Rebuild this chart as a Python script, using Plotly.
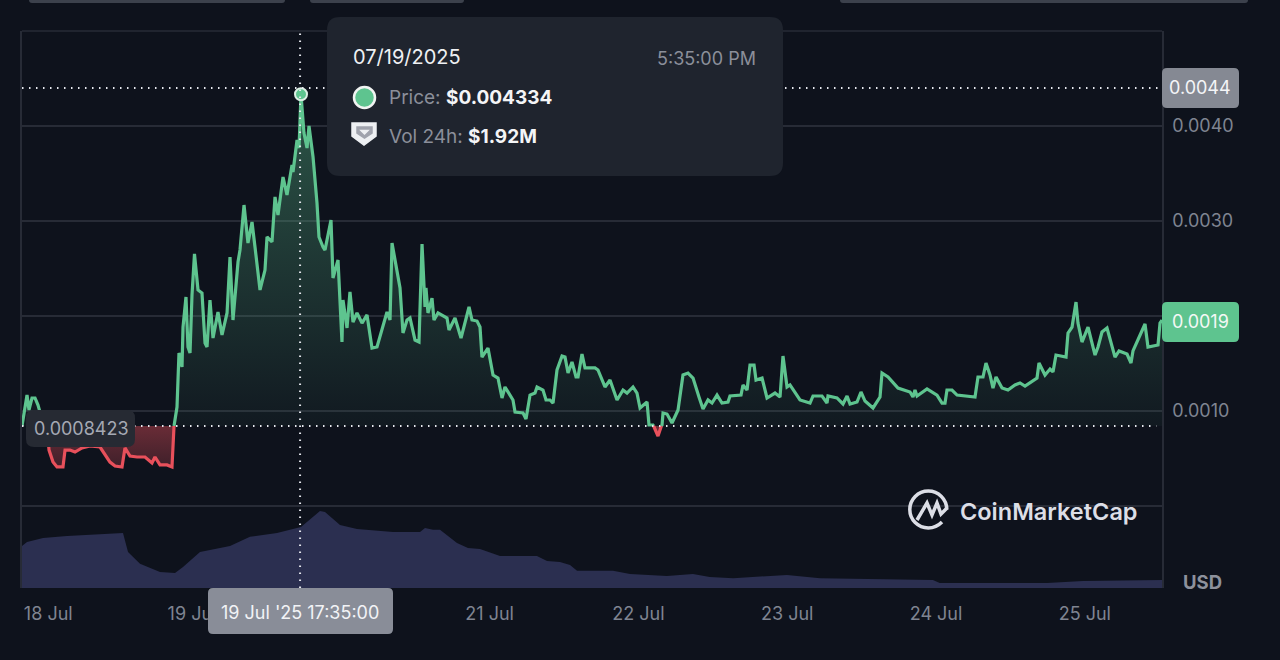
import numpy as np
import pandas as pd
import plotly.graph_objects as go

# hours since 18 Jul 2025 00:00
PRICE_HOURS = [
    -3.42, -2.94, -2.61, -2.29, -1.81, -1.32, -0.84, -0.52, 0.13, 0.61,
    0.94, 1.58, 2.23, 3.19, 3.52, 4.32, 5.13, 6.26, 7.55, 9.16,
    10.77, 11.58, 12.71, 13.19, 14.0, 15.13, 16.42, 17.55, 18.03, 18.84,
    19.97, 20.77, 21.1, 21.58, 21.9, 22.39, 22.55, 23.03, 23.35, 23.68,
    24.0, 24.4, 24.97, 25.61, 26.1, 26.42, 26.9, 27.39, 28.19, 28.84,
    29.65, 30.13, 30.61, 31.42, 31.74, 32.39, 33.03, 33.68, 34.16, 34.97,
    35.77, 36.1, 36.9, 37.39, 37.87, 38.68, 39.32, 40.13, 40.29, 40.94,
    41.26, 41.58, 42.06, 42.55, 42.87, 43.52, 44.16, 44.48, 45.13, 45.45,
    46.42, 46.74, 47.55, 48.19, 48.35, 49.0, 49.48, 49.97, 50.61, 51.42,
    52.23, 53.03, 53.84, 55.45, 55.94, 56.26, 57.55, 58.03, 58.68, 59.16,
    59.97, 60.61, 61.1, 61.58, 61.74, 62.06, 62.71, 63.03, 63.68, 65.13,
    65.45, 66.42, 67.39, 68.68, 69.16, 69.97, 70.45, 70.77, 71.74, 72.55,
    73.35, 74.0, 74.48, 75.77, 76.1, 77.39, 77.87, 78.52, 79.32, 79.65,
    80.61, 81.1, 81.74, 82.23, 82.87, 83.68, 84.16, 84.65, 85.29, 85.94,
    86.26, 86.9, 87.39, 89.0, 89.48, 90.61, 91.42, 92.55, 93.52, 94.16,
    95.13, 95.77, 96.26, 97.39, 97.71, 98.35, 98.45, 99.16, 99.7, 99.81,
    99.97, 100.61, 101.42, 102.39, 103.19, 104.0, 104.81, 105.45, 105.77, 106.42,
    107.23, 107.87, 108.68, 109.48, 110.45, 110.77, 112.55, 112.87, 113.52, 114.0,
    114.65, 114.97, 115.94, 116.74, 118.03, 118.84, 119.32, 119.97, 120.45, 122.06,
    123.68, 124.16, 125.61, 126.42, 126.58, 128.03, 129.0, 129.65, 130.13, 131.26,
    131.9, 132.55, 133.84, 134.97, 135.29, 136.26, 137.87, 139.81, 140.29, 140.61,
    140.94, 142.55, 144.16, 144.97, 145.45, 145.77, 146.58, 147.39, 150.29, 150.77,
    151.58, 152.06, 152.71, 153.19, 153.68, 154.65, 155.61, 156.74, 157.55, 158.35,
    160.29, 160.61, 161.58, 162.39, 162.87, 163.35, 164.97, 165.29, 165.94, 166.58,
    166.9, 167.55, 168.52, 169.65, 170.13, 170.77, 171.58, 172.87, 173.52, 174.81,
    175.45, 175.77, 177.71, 178.19, 179.81, 180.13, 180.45,
]
PRICE = [
    0.0008423, 0.001063, 0.001168, 0.001011, 0.001137, 0.001137, 0.001063, 0.000989, 0.000884, 0.0008423,
    0.000589, 0.000463, 0.000411, 0.000411, 0.000589, 0.000589, 0.000568, 0.000611, 0.000632, 0.000621,
    0.000463, 0.000421, 0.000411, 0.000611, 0.000526, 0.000516, 0.000516, 0.000453, 0.000516, 0.000432,
    0.000432, 0.000411, 0.0008423, 0.001042, 0.001611, 0.001463, 0.001884, 0.0022, 0.001674, 0.001611,
    0.002221, 0.002653, 0.002274, 0.002242, 0.001716, 0.001674, 0.002168, 0.001768, 0.002042, 0.0018,
    0.002032, 0.002621, 0.001958, 0.002568, 0.002695, 0.003168, 0.002768, 0.002989, 0.002726, 0.002274,
    0.002484, 0.002832, 0.002779, 0.003253, 0.003063, 0.003463, 0.003274, 0.003589, 0.003516, 0.003853,
    0.003768, 0.004334, 0.003926, 0.003768, 0.004, 0.003674, 0.003189, 0.002832, 0.002726, 0.002695,
    0.003011, 0.0024, 0.002589, 0.001726, 0.002168, 0.001874, 0.002253, 0.001937, 0.002032, 0.001926,
    0.002011, 0.001663, 0.001674, 0.002042, 0.001958, 0.002768, 0.002295, 0.001821, 0.001958, 0.001979,
    0.001747, 0.001726, 0.002758, 0.002095, 0.002295, 0.002032, 0.002189, 0.001958, 0.002032, 0.001979,
    0.001853, 0.001979, 0.001768, 0.002095, 0.001958, 0.001947, 0.001884, 0.001568, 0.001663, 0.001379,
    0.001347, 0.001137, 0.001253, 0.001116, 0.000989, 0.000979, 0.000916, 0.001168, 0.001189, 0.001253,
    0.001221, 0.001116, 0.001116, 0.001084, 0.001432, 0.001579, 0.001568, 0.0014, 0.001516, 0.001358,
    0.001358, 0.0016, 0.001453, 0.001453, 0.001432, 0.001253, 0.001326, 0.001116, 0.001221, 0.001189,
    0.001253, 0.001189, 0.001032, 0.001095, 0.000853, 0.000853, 0.0008423, 0.000737, 0.0008423, 0.000853,
    0.000979, 0.000968, 0.000874, 0.001011, 0.001379, 0.0014, 0.001347, 0.0012, 0.001147, 0.001021,
    0.001116, 0.001084, 0.001168, 0.001084, 0.001095, 0.001158, 0.001168, 0.001274, 0.001221, 0.001484,
    0.001484, 0.001326, 0.001347, 0.001137, 0.001189, 0.001147, 0.001579, 0.001253, 0.001274, 0.001116,
    0.001084, 0.001158, 0.001158, 0.001084, 0.001158, 0.001137, 0.001074, 0.001158, 0.001074, 0.001095,
    0.0012, 0.001105, 0.001032, 0.001147, 0.0014, 0.001358, 0.001242, 0.0012, 0.001147, 0.001221,
    0.001158, 0.001232, 0.001168, 0.001084, 0.001084, 0.001221, 0.001221, 0.001168, 0.001147, 0.001358,
    0.001358, 0.001505, 0.001379, 0.001242, 0.001358, 0.001242, 0.001221, 0.001274, 0.001295, 0.001263,
    0.001347, 0.001505, 0.001379, 0.001442, 0.001411, 0.001589, 0.001568, 0.001821, 0.001884, 0.002147,
    0.001926, 0.001726, 0.001884, 0.001589, 0.001674, 0.001832, 0.001874, 0.001568, 0.001632, 0.0016,
    0.001505, 0.001632, 0.001916, 0.001674, 0.001695, 0.001926, 0.001958,
]
VOLUME_HOURS = [
    -3.42, -2.61, -0.03, 3.84, 12.87, 13.68, 15.61, 18.84, 21.26, 22.55,
    25.29, 30.13, 33.35, 37.71, 40.93, 41.58, 44.64, 45.45, 47.87, 50.61,
    56.42, 60.78, 61.58, 62.87, 64.0, 66.74, 68.51, 70.45, 73.68, 79.64,
    81.26, 83.35, 84.97, 86.1, 91.9, 94.65, 100.6, 104.8, 107.5, 111.3,
    119.96, 125.3, 143.5, 144.6, 159.2, 161.9, 167.7, 180.45,
]
VOLUME_M = [
    1.32, 1.45, 1.57, 1.64, 1.73, 1.13, 0.76, 0.50, 0.47, 0.66,
    1.13, 1.32, 1.61, 1.73, 1.89, 1.92, 2.42, 2.39, 1.98, 1.86,
    1.76, 1.76, 1.89, 1.83, 1.83, 1.42, 1.26, 1.23, 1.01, 1.01,
    0.85, 0.82, 0.72, 0.54, 0.54, 0.44, 0.38, 0.44, 0.35, 0.31,
    0.41, 0.31, 0.25, 0.16, 0.16, 0.16, 0.22, 0.25,
]
# 20 Jul and 0.0020 sit behind the time box and the price tag in the picture
X_TICK_HOURS = [0, 24, 72, 96, 120, 144, 168]
X_TICK_LABELS = ["\u00a0\u00a018 Jul", "19 Jul", "21 Jul", "22 Jul", "23 Jul", "24 Jul", "25 Jul"]
Y_TICKS = [0.0, 0.001, 0.002, 0.003, 0.004]
Y_TICK_LABELS = ["", "0.0010", "", "0.0030", "0.0040"]

BASELINE = 0.0008423
HOVER_HOUR = 41.58
HOVER_PRICE = 0.004334
CROSS_PRICE = 0.0044

BG = "#0e121c"
GREEN = "#5ec48f"
RED = "#e8505b"
GRID = "#272b36"
TICK = "#7f8491"
FONT = "Inter"
W, H = 1280, 660


def to_time(hours):
    return pd.Timestamp("2025-07-18") + pd.to_timedelta(np.asarray(hours, dtype=float), unit="h")


def px(x):
    return x / W


def py(y):
    return 1 - y / H


def rounded(x0, y0, x1, y1, r):
    # rounded box as a path, paper coords
    pts = [
        f"M {px(x0 + r)},{py(y0)}", f"L {px(x1 - r)},{py(y0)}", f"Q {px(x1)},{py(y0)} {px(x1)},{py(y0 + r)}",
        f"L {px(x1)},{py(y1 - r)}", f"Q {px(x1)},{py(y1)} {px(x1 - r)},{py(y1)}",
        f"L {px(x0 + r)},{py(y1)}", f"Q {px(x0)},{py(y1)} {px(x0)},{py(y1 - r)}",
        f"L {px(x0)},{py(y0 + r)}", f"Q {px(x0)},{py(y0)} {px(x0 + r)},{py(y0)}", "Z",
    ]
    return " ".join(pts)


def box(x0, y0, x1, y1, r, color):
    return dict(type="path", xref="paper", yref="paper", path=rounded(x0, y0, x1, y1, r),
                fillcolor=color, line=dict(width=0), layer="above")


def poly(points, color):
    path = "M " + " L ".join(f"{px(x)},{py(y)}" for x, y in points) + " Z"
    return dict(type="path", xref="paper", yref="paper", path=path, fillcolor=color,
                line=dict(width=1.5, color=color), layer="above")


def label(x, y, text, size=18, color=TICK, anchor="center", weight=None):
    font = dict(family=FONT, size=size, color=color)
    if weight:
        font["weight"] = weight
    return dict(xref="paper", yref="paper", x=px(x), y=py(y), text=text, showarrow=False,
                xanchor=anchor, yanchor="middle", font=font)


times = to_time(PRICE_HOURS)
price = np.array(PRICE)
above = np.where(price >= BASELINE, price, np.nan)
below = np.where(price <= BASELINE, price, np.nan)
base_line = np.full(len(price), BASELINE)

fig = go.Figure()

#volume underneath
fig.add_trace(go.Scatter(x=to_time(VOLUME_HOURS), y=VOLUME_M, yaxis="y2", mode="lines",
                         line=dict(width=0), fill="tozeroy", fillcolor="#2b2f50"))

#area fills against the baseline
fig.add_trace(go.Scatter(x=times, y=base_line, mode="lines", line=dict(width=0)))
fig.add_trace(go.Scatter(
    x=times, y=np.maximum(price, BASELINE), mode="lines", line=dict(width=0), fill="tonexty",
    fillgradient=dict(type="vertical", start=BASELINE, stop=HOVER_PRICE,
                      colorscale=[[0, "rgba(94,196,143,0.04)"], [1, "rgba(94,196,143,0.38)"]]),
))
fig.add_trace(go.Scatter(x=times, y=base_line, mode="lines", line=dict(width=0)))
fig.add_trace(go.Scatter(
    x=times, y=np.minimum(price, BASELINE), mode="lines", line=dict(width=0), fill="tonexty",
    fillgradient=dict(type="vertical", start=0.0004, stop=BASELINE,
                      colorscale=[[0, "rgba(232,80,91,0.22)"], [1, "rgba(232,80,91,0.42)"]]),
))

#price line, green above the baseline and red below
fig.add_trace(go.Scatter(x=times, y=above, mode="lines", line=dict(color=GREEN, width=3.2)))
fig.add_trace(go.Scatter(x=times, y=below, mode="lines", line=dict(color=RED, width=3.2)))

fig.add_trace(go.Scatter(
    x=to_time([HOVER_HOUR]), y=[HOVER_PRICE], mode="markers",
    marker=dict(size=12, color=GREEN, line=dict(color="#dcefe4", width=2)),
))

dots = dict(color="#e6e8ee", width=2, dash="1.5px,5.5px")
cross_time = to_time([HOVER_HOUR - 0.15])[0]
shapes = [
    dict(type="line", xref="x domain", yref="y domain", x0=0, x1=1, y0=1, y1=1,
         line=dict(color=GRID, width=1.5), layer="below"),
    dict(type="line", xref="x", yref="y domain", x0=cross_time, x1=cross_time,
         y0=0, y1=1, line=dots, layer="above"),
    dict(type="line", xref="x domain", yref="y", x0=0, x1=1, y0=CROSS_PRICE, y1=CROSS_PRICE, line=dots, layer="above"),
    dict(type="line", xref="x domain", yref="y", x0=0, x1=0.995, y0=BASELINE, y1=BASELINE, line=dots, layer="above"),
    # cut off buttons along the top edge
    box(29, -6, 285, 3, 3, "#3c414c"),
    box(310, -6, 464, 3, 3, "#3c414c"),
    box(840, -6, 1248, 3, 3, "#3c414c"),
    # tags
    box(26, 410, 135, 447, 8, "#262a33"),
    box(1162, 68, 1239, 108, 5, "#858993"),
    box(1162, 302, 1239, 342, 5, GREEN),
    box(208, 588, 393, 634, 5, "#898d98"),
    # tooltip
    box(327, 17, 783, 176, 13, "#1f242e"),
    dict(type="circle", xref="paper", yref="paper", x0=px(354), x1=px(375), y0=py(108), y1=py(87),
         fillcolor=GREEN, line=dict(color="#f1f4f2", width=2.5), layer="above"),
    poly([(352, 123), (376, 123), (376, 136), (364, 145), (352, 136)], "#eef0f3"),
    poly([(357, 127), (372, 127), (372, 133), (364.5, 138), (357, 133)], "#a0a3ad"),
    poly([(361, 130.5), (368, 130.5), (364.5, 134)], "#eef0f3"),
    # logo
    dict(type="path", xref="paper", yref="paper", layer="above", line=dict(color="#dcdee6", width=3.5),
         path=(f"M {px(942)},{py(522)} C {px(938)},{py(526)} {px(933)},{py(528)} {px(928.3)},{py(528)} "
               f"C {px(918)},{py(528)} {px(909.8)},{py(519.7)} {px(909.8)},{py(509.5)} "
               f"C {px(909.8)},{py(499.3)} {px(918)},{py(491)} {px(928.3)},{py(491)} "
               f"C {px(938.5)},{py(491)} {px(946.8)},{py(499.3)} {px(946.8)},{py(509.5)}")),
    dict(type="path", xref="paper", yref="paper", layer="above", line=dict(color="#dcdee6", width=3.5),
         path=(f"M {px(917)},{py(520)} L {px(927)},{py(503)} L {px(932)},{py(515)} L {px(937)},{py(503)} "
               f"L {px(941)},{py(514)} L {px(947)},{py(508)}")),
]

annotations = [
    label(81, 428, "0.0008423", color="#a5a9b3"),
    label(1200, 88, "0.0044", color="#f4f5f7"),
    label(1200, 322, "0.0019", color="#f4f8f5"),
    label(300, 612, "19 Jul '25 17:35:00", color="#f2f3f6"),
    label(351, 57, "07/19/2025", size=20, color="#eef0f3", anchor="left"),
    label(758, 58, "5:35:00 PM", size=18, color="#8b8f9a", anchor="right"),
    label(387, 97, '<span style="color:#8b8f9a">Price:</span> <b>$0.004334</b>', size=19, color="#f4f5f7", anchor="left"),
    label(387, 136, '<span style="color:#8b8f9a">Vol 24h:</span> <b>$1.92M</b>', size=19, color="#f4f5f7", anchor="left"),
    label(1202, 582, "<b>USD</b>", size=18.5, color="#8d919c"),
    label(958, 511, "CoinMarketCap", size=23.5, color="#dcdee6", anchor="left", weight=600),
]

fig.update_layout(
    width=W,
    height=H,
    margin=dict(l=0, r=0, t=0, b=0, autoexpand=False),
    paper_bgcolor=BG,
    plot_bgcolor=BG,
    showlegend=False,
    hovermode=False,
    font=dict(family=FONT, size=18, color=TICK),
    xaxis=dict(
        domain=[px(22), px(1162)],
        range=[to_time([-3.42])[0], to_time([180.45])[0]],
        tickmode="array",
        tickvals=to_time(X_TICK_HOURS),
        ticktext=X_TICK_LABELS,
        showgrid=False,
        zeroline=False,
        showline=False,
        ticks="",
        ticklabelstandoff=13,
    ),
    yaxis=dict(
        domain=[py(588), py(31)],
        range=[-0.000863, 0.005],
        side="right",
        tickmode="array",
        tickvals=Y_TICKS,
        ticktext=Y_TICK_LABELS,
        gridcolor=GRID,
        gridwidth=1.5,
        zeroline=False,
        showline=True,
        mirror=True,
        linecolor=GRID,
        linewidth=1.5,
        ticks="",
        ticklabelstandoff=5,
    ),
    yaxis2=dict(overlaying="y", range=[0, 17.53], visible=False, side="left"),
    shapes=shapes,
    annotations=annotations,
)

fig.write_html("out.html", config=dict(displayModeBar=False),
               post_script=f"document.body.style.margin='0';document.body.style.background='{BG}';")
